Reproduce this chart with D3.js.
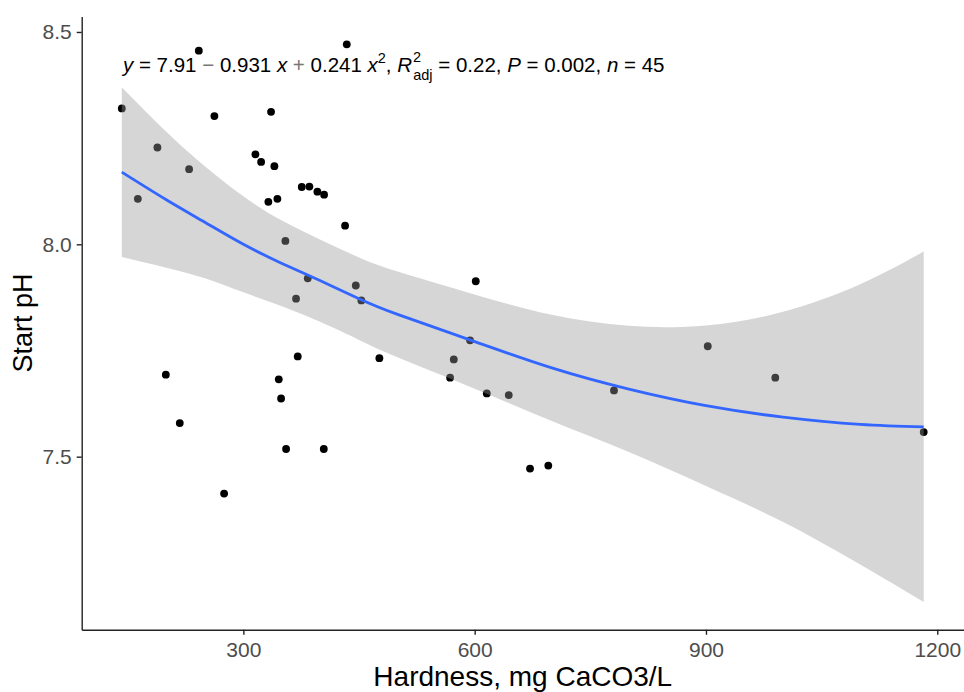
<!DOCTYPE html>
<html>
<head>
<meta charset="utf-8">
<script src="https://cdn.jsdelivr.net/npm/d3@7"></script>
<style>
  body { margin: 0; background: #fff; }
  svg { display: block; }
  text { font-family: "Liberation Sans", Arial, sans-serif; }
</style>
</head>
<body>
<svg id="chart" width="964" height="692"></svg>
<script>
// Observations: water hardness (mg CaCO3/L) and starting pH
const hardness = [142.3, 163.1, 188.5, 199.4, 217.5, 229.6, 242.2, 262.4, 275.0, 315.6,
  323.0, 332.4, 335.9, 340.2, 344.1, 345.9, 348.9, 354.5, 355.4, 368.3,
  370.5, 375.7, 383.5, 385.6, 396.0, 404.3, 404.7, 431.9, 434.1, 445.8,
  453.0, 476.4, 568.1, 572.9, 594.0, 601.4, 615.7, 644.2, 671.8, 695.5,
  780.7, 902.3, 989.9, 1182.4];
const startPH = [8.320, 8.107, 8.228, 7.693, 7.579, 8.177, 8.456, 8.302, 7.413, 8.212,
  8.194, 8.100, 8.312, 8.184, 8.107, 7.682, 7.637, 8.008, 7.518, 7.872,
  7.736, 8.135, 7.920, 8.136, 8.124, 7.518, 8.117, 8.044, 8.471, 7.903,
  7.868, 7.732, 7.686, 7.729, 7.774, 7.913, 7.649, 7.645, 7.472, 7.479,
  7.656, 7.760, 7.686, 7.558];

// Quadratic fit and its 95% confidence band
const fitHardness = [142.3, 200, 250, 300, 350, 400, 450, 500, 600, 700, 800, 900, 1000, 1100, 1182.4];
const fitPH   = [8.170, 8.105, 8.052, 8.000, 7.955, 7.914, 7.872, 7.835, 7.771, 7.709, 7.659, 7.620, 7.593, 7.576, 7.570];
const ciUpper = [8.370, 8.265, 8.184, 8.113, 8.056, 8.011, 7.969, 7.936, 7.882, 7.834, 7.808, 7.809, 7.841, 7.906, 7.983];
const ciLower = [7.970, 7.945, 7.920, 7.887, 7.854, 7.817, 7.775, 7.734, 7.660, 7.584, 7.511, 7.431, 7.346, 7.246, 7.158];

const xTicks = [300, 600, 900, 1200];
const yTicks = [7.5, 8.0, 8.5];

const xTitle = "Hardness, mg CaCO3/L";
const yTitle = "Start pH";

const svg = d3.select("#chart");
const panel = { left: 81.7, right: 963.8, top: 16.4, bottom: 629.8 };

// ggplot-style 5% expansion of the data range
function expand(lo, hi, f = 0.05) {
  const d = (hi - lo) * f;
  return [lo - d, hi + d];
}

const x = d3.scaleLinear()
  .domain(expand(d3.min(hardness), d3.max(hardness)))
  .range([panel.left, panel.right]);

const yLo = Math.min(d3.min(startPH), d3.min(ciLower));
const yHi = Math.max(d3.max(startPH), d3.max(ciUpper));
const y = d3.scaleLinear()
  .domain(expand(yLo, yHi))
  .range([panel.bottom, panel.top]);

const pts = hardness.map((h, i) => ({ h, p: startPH[i] }));
const band = fitHardness.map((h, i) => ({ h, f: fitPH[i], lo: ciLower[i], hi: ciUpper[i] }));

// points (drawn first so the band tints them)
svg.append("g").selectAll("circle")
  .data(pts).join("circle")
  .attr("cx", d => x(d.h))
  .attr("cy", d => y(d.p))
  .attr("r", 3.9)
  .attr("fill", "#000");

// confidence band
svg.append("path")
  .datum(band)
  .attr("fill", "#999999")
  .attr("fill-opacity", 0.4)
  .attr("d", d3.area().curve(d3.curveNatural)
    .x(d => x(d.h)).y0(d => y(d.lo)).y1(d => y(d.hi)));

// fitted curve
svg.append("path")
  .datum(band)
  .attr("fill", "none")
  .attr("stroke", "#3366FF")
  .attr("stroke-width", 2.8)
  .attr("d", d3.line().curve(d3.curveNatural)
    .x(d => x(d.h)).y(d => y(d.f)));

// axes
const xAxis = svg.append("g")
  .attr("transform", `translate(0,${panel.bottom})`)
  .call(d3.axisBottom(x).tickValues(xTicks).tickSize(5).tickSizeOuter(0).tickPadding(7).tickFormat(d3.format("d")));
const yAxis = svg.append("g")
  .attr("transform", `translate(${panel.left},0)`)
  .call(d3.axisLeft(y).tickValues(yTicks).tickSize(5).tickSizeOuter(0).tickPadding(5).tickFormat(d3.format(".1f")));

[xAxis, yAxis].forEach(g => {
  g.select(".domain").attr("stroke", "#222").attr("stroke-width", 1.4);
  g.selectAll(".tick line").attr("stroke", "#222").attr("stroke-width", 1.4);
  g.selectAll(".tick text")
    .attr("fill", "#4D4D4D")
    .style("font-size", "21px")
    .style("font-family", '"Liberation Sans", Arial, sans-serif');
});

// axis titles
svg.append("text")
  .attr("x", (panel.left + panel.right) / 2)
  .attr("y", 686)
  .attr("text-anchor", "middle")
  .style("font-size", "28px")
  .attr("fill", "#000")
  .text(xTitle);

svg.append("text")
  .attr("transform", `translate(32,${(panel.top + panel.bottom) / 2}) rotate(-90)`)
  .attr("text-anchor", "middle")
  .style("font-size", "27px")
  .attr("fill", "#000")
  .text(yTitle);

// regression equation label
const eq = svg.append("text")
  .attr("x", 123)
  .attr("y", 72)
  .style("font-size", "20.5px")
  .attr("fill", "#000");

function seg(t, opts = {}) {
  const s = eq.append("tspan").text(t);
  if (opts.italic) s.style("font-style", "italic");
  if (opts.size) s.style("font-size", opts.size + "px");
  if (opts.dx) s.attr("dx", opts.dx);
  if (opts.dy) s.attr("dy", opts.dy);
  if (opts.fill) s.attr("fill", opts.fill);
  return s;
}
seg("y", { italic: true });
seg(" = 7.91 ");
seg("\u2212", { fill: "#777" });
seg(" 0.931 ");
seg("x", { italic: true });
seg(" + ", { fill: "#777" });
seg("0.241 ");
seg("x", { italic: true });
seg("2", { size: 14.5, dy: -9 });
seg(", ", { dy: 9 });
seg("R", { italic: true });
seg("2", { size: 14.5, dy: -10, dx: 1 });
seg("adj", { size: 14.5, dy: 18, dx: -8 });
seg(" = 0.22, ", { dy: -8 });
seg("P", { italic: true });
seg(" = 0.002, ");
seg("n", { italic: true });
seg(" = 45");
</script>
</body>
</html>
